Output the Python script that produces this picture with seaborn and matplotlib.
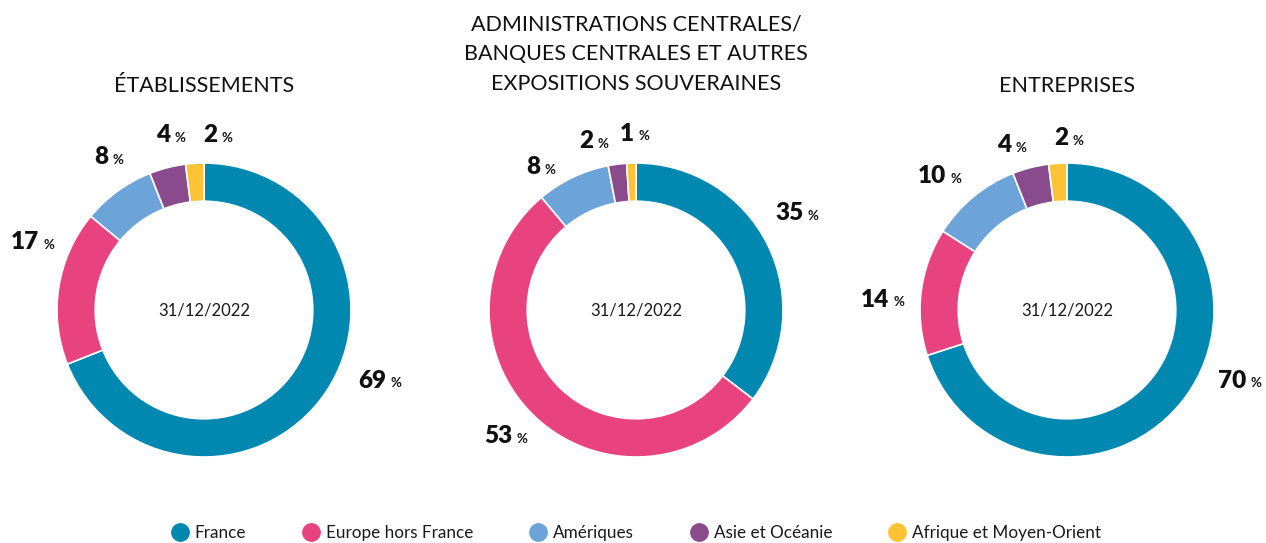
import matplotlib
matplotlib.use("Agg")
import matplotlib.pyplot as plt
from matplotlib.lines import Line2D
import seaborn as sns

# Geographic breakdown of exposures, in %
regions = ["France", "Europe hors France", "Amériques", "Asie et Océanie",
           "Afrique et Moyen-Orient"]
etablissements = [69, 17, 8, 4, 2]
souverains = [35, 53, 8, 2, 1]
entreprises = [70, 14, 10, 4, 2]

titles = ["ÉTABLISSEMENTS",
          "ADMINISTRATIONS CENTRALES/\nBANQUES CENTRALES ET AUTRES\nEXPOSITIONS SOUVERAINES",
          "ENTREPRISES"]
center_label = "31/12/2022"

colors = ["#0088B0", "#E8437F", "#6CA3D8", "#8A4B8C", "#FDC334"]

sns.set_theme(style="white")
sns.set_palette(colors)
plt.rcParams["font.family"] = ["Lato", "DejaVu Sans"]

W, H = 1266, 543
fig = plt.figure(figsize=(W / 100, H / 100), dpi=100)

# Donut layout (pixel centres, outer radius in px)
centers_px = [204, 636, 1067]
cy_px = 310
R_px = 147
half = 1.43  # axes half-extent in data units (outer radius = 1)
size_px = 2 * half * R_px

# Label anchor positions (data units, relative to the donut centre)
label_pos = [
    [(1.21, -0.48), (-1.15, 0.46), (-0.68, 1.04), (-0.26, 1.19), (0.06, 1.19)],
    [(1.11, 0.66), (-0.87, -0.86), (-0.68, 0.97), (-0.32, 1.15), (-0.04, 1.20)],
    [(1.19, -0.48), (-1.24, 0.07), (-0.85, 0.91), (-0.41, 1.12), (-0.02, 1.17)],
]

datasets = [etablissements, souverains, entreprises]

for i, (vals, title) in enumerate(zip(datasets, titles)):
    cx = centers_px[i]
    left = (cx - size_px / 2) / W
    bottom = ((H - cy_px) - size_px / 2) / H
    ax = fig.add_axes([left, bottom, size_px / W, size_px / H])
    ax.pie(vals, colors=colors, startangle=90, counterclock=False,
           radius=1.0,
           wedgeprops=dict(width=0.26, edgecolor="white", linewidth=1.2))
    ax.set_xlim(-half, half)
    ax.set_ylim(-half, half)
    ax.set_aspect("equal")
    ax.axis("off")
    ax.text(0, 0, center_label, ha="center", va="center", fontsize=12,
            color="#1a1a1a")
    for v, (lx, ly) in zip(vals, label_pos[i]):
        ax.annotate(f"{v}", xy=(lx, ly), ha="right", va="center",
                    fontsize=17.5, fontweight="heavy", color="#111111",
                    xytext=(3, 0), textcoords="offset points")
        ax.annotate("%", xy=(lx, ly), ha="left", va="center",
                    fontsize=9.5, fontweight="bold", color="#111111",
                    xytext=(6, -2), textcoords="offset points")

# Titles
title_style = dict(ha="center", va="center", fontsize=15.5,
                   fontweight="normal", color="#111111")
fig.text(204 / W, 1 - 86 / H, titles[0], **title_style)
fig.text(636 / W, 1 - 54 / H, titles[1], linespacing=1.6, **title_style)
fig.text(1067 / W, 1 - 86 / H, titles[2], **title_style)

# Legend
handles = [Line2D([0], [0], marker="o", linestyle="", markersize=12.5,
                  markerfacecolor=c, markeredgecolor=c) for c in colors]
fig.legend(handles, regions, loc="center", bbox_to_anchor=(637 / W, 1 - 533 / H),
           ncol=5, frameon=False, fontsize=12.3, handlelength=0.8,
           handletextpad=0.45, columnspacing=3.42, labelcolor="#1a1a1a")

fig.savefig("out.png", dpi=100)
